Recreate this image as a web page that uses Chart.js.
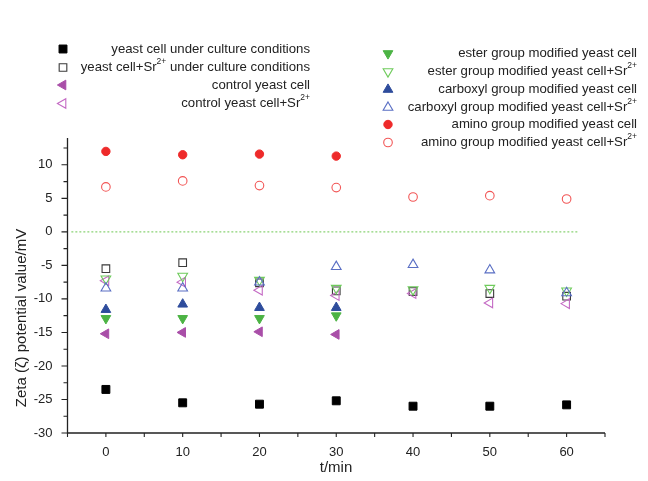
<!DOCTYPE html>
<html>
<head>
<meta charset="utf-8">
<script src="https://cdn.jsdelivr.net/npm/chart.js@4.4.0/dist/chart.umd.min.js"></script>
<style>
html,body{margin:0;padding:0;background:#fff;}
#wrap{width:648px;height:481px;position:relative;}
</style>
</head>
<body>
<div id="wrap"><canvas id="c" width="648" height="481"></canvas></div>
<script>
// ---- data ----
const times = [0, 10, 20, 30, 40, 50, 60];
const timesShort = [0, 10, 20, 30];
const yeastCulture   = [-23.5, -25.5, -25.7, -25.2, -26.0, -26.0, -25.8];
const yeastCultureSr = [-5.5, -4.6, -7.6, -8.8, -8.9, -9.2, -9.6];
const control        = [-15.2, -15.0, -14.9, -15.3];
const controlSr      = [-7.3, -7.5, -8.7, -9.5, -9.2, -10.6, -10.7];
const ester          = [-12.9, -12.9, -12.9, -12.5];
const esterSr        = [-7.0, -6.6, -7.2, -8.4, -8.6, -8.4, -8.8];
const carboxyl       = [-11.6, -10.8, -11.3, -11.3];
const carboxylSr     = [-8.4, -8.4, -7.5, -5.2, -4.9, -5.7, -9.1];
const amino          = [12.0, 11.5, 11.6, 11.3];
const aminoSr        = [6.7, 7.6, 6.9, 6.6, 5.2, 5.4, 4.9];
const zeroLineX = [-4.5, 61.5];
const zeroLineY = [0, 0];

const seriesLabels = [
  'yeast cell under culture conditions',
  'yeast cell+Sr^2+ under culture conditions',
  'control yeast cell',
  'control yeast cell+Sr^2+',
  'ester group modified yeast cell',
  'ester group modified yeast cell+Sr^2+',
  'carboxyl group modified yeast cell',
  'carboxyl group modified yeast cell+Sr^2+',
  'amino group modified yeast cell',
  'amino group modified yeast cell+Sr^2+'
];
const xTickValues = [0, 10, 20, 30, 40, 50, 60];
const xMinorTicks = [-5, 0, 5, 10, 15, 20, 25, 30, 35, 40, 45, 50, 55, 60, 65];
const yTickValues = [-30, -25, -20, -15, -10, -5, 0, 5, 10];
const yMinorTicks = [-27.5, -22.5, -17.5, -12.5, -7.5, -2.5, 2.5, 7.5, 12.5];
const xTitle = 't/min';
const yTitle = 'Zeta (\u03B6) potential value/mV';

// ---- styles ----
const styles = [
  {shape:'rect', rot:0, fill:'#000000', stroke:'#000000', r:5.6, open:false},
  {shape:'rect', rot:0, fill:'transparent', stroke:'#3a3a3a', r:5.4, open:true},
  {shape:'triangle', rot:270, fill:'#a94ea8', stroke:'#a94ea8', r:5.6, open:false},
  {shape:'triangle', rot:270, fill:'transparent', stroke:'#c46ac4', r:5.6, open:true},
  {shape:'triangle', rot:180, fill:'#4cb344', stroke:'#4cb344', r:5.6, open:false},
  {shape:'triangle', rot:180, fill:'transparent', stroke:'#6fcb5c', r:5.6, open:true},
  {shape:'triangle', rot:0, fill:'#2e4c9c', stroke:'#2e4c9c', r:5.6, open:false},
  {shape:'triangle', rot:0, fill:'transparent', stroke:'#5a6fc4', r:5.6, open:true},
  {shape:'circle', rot:0, fill:'#ee2a2a', stroke:'#ee2a2a', r:4.2, open:false},
  {shape:'circle', rot:0, fill:'transparent', stroke:'#f25555', r:4.3, open:true}
];
const seriesData = [yeastCulture, yeastCultureSr, control, controlSr, ester, esterSr, carboxyl, carboxylSr, amino, aminoSr];

function pts(arr) {
  const xs = arr.length === times.length ? times : timesShort;
  return arr.map((v, i) => ({x: xs[i], y: v}));
}

const datasets = seriesData.map((arr, i) => ({
  type: 'scatter',
  label: seriesLabels[i],
  data: pts(arr),
  pointStyle: styles[i].shape,
  rotation: styles[i].rot,
  pointRadius: styles[i].r,
  pointHoverRadius: styles[i].r,
  backgroundColor: styles[i].fill,
  borderColor: styles[i].stroke,
  borderWidth: styles[i].open ? 1.1 : 1,
  showLine: false,
  order: 10 - i
}));
datasets.unshift({
  type: 'line',
  label: 'zero',
  data: zeroLineX.map((x, i) => ({x: x, y: zeroLineY[i]})),
  borderColor: '#8fd47a',
  borderWidth: 1.3,
  borderDash: [2, 2],
  pointRadius: 0,
  fill: false,
  order: 20
});

// legend layout
const legendLeft = {markerX: 63, rightX: 310, ys: [49, 67.5, 85, 103.5], items: [0, 1, 2, 3]};
const legendRight = {markerX: 388, rightX: 637, ys: [53.5, 71.5, 89.5, 107.5, 124.5, 142.5], items: [4, 5, 6, 7, 8, 9]};
const FONT = '"Liberation Sans", Arial, sans-serif';
const TXT = '#222222';

function drawMarker(ctx, st, x, y) {
  ctx.save();
  ctx.beginPath();
  const r = st.r;
  if (st.shape === 'circle') {
    ctx.arc(x, y, r, 0, Math.PI * 2);
  } else if (st.shape === 'rect') {
    const s = r * Math.SQRT1_2;
    ctx.rect(x - s, y - s, 2 * s, 2 * s);
  } else {
    const rad = st.rot * Math.PI / 180;
    for (let k = 0; k < 3; k++) {
      const a = rad + k * 2 * Math.PI / 3;
      const px = x + Math.sin(a) * r;
      const py = y - Math.cos(a) * r;
      if (k === 0) ctx.moveTo(px, py); else ctx.lineTo(px, py);
    }
    ctx.closePath();
  }
  if (!st.open) { ctx.fillStyle = st.fill; ctx.fill(); }
  ctx.lineWidth = st.open ? 1.1 : 1;
  ctx.strokeStyle = st.stroke;
  ctx.stroke();
  ctx.restore();
}

function drawRichRight(ctx, text, rightX, y) {
  const parts = text.split('^2+');
  const segs = [];
  parts.forEach((p, i) => {
    if (p) segs.push({t: p, sup: false});
    if (i < parts.length - 1) segs.push({t: '2+', sup: true});
  });
  const fN = '13.2px ' + FONT, fS = '8.5px ' + FONT;
  let w = 0;
  segs.forEach(s => { ctx.font = s.sup ? fS : fN; s.w = ctx.measureText(s.t).width; w += s.w; });
  let x = rightX - w;
  ctx.textBaseline = 'middle';
  ctx.textAlign = 'left';
  ctx.fillStyle = TXT;
  segs.forEach(s => {
    ctx.font = s.sup ? fS : fN;
    ctx.fillText(s.t, x, s.sup ? y - 5.5 : y);
    x += s.w;
  });
}

const decor = {
  id: 'decor',
  afterDraw(chart) {
    const ctx = chart.ctx;
    const xs = chart.scales.x, ys = chart.scales.y;
    const a = chart.chartArea;
    ctx.save();
    ctx.strokeStyle = '#222';
    ctx.lineWidth = 1.3;
    // axes
    ctx.beginPath();
    ctx.moveTo(a.left, a.top);
    ctx.lineTo(a.left, a.bottom);
    ctx.lineTo(a.right, a.bottom);
    ctx.stroke();
    ctx.lineWidth = 1.1;
    // y ticks
    ctx.beginPath();
    yTickValues.forEach(v => { const p = ys.getPixelForValue(v); ctx.moveTo(a.left, p); ctx.lineTo(a.left - 6, p); });
    yMinorTicks.forEach(v => { const p = ys.getPixelForValue(v); ctx.moveTo(a.left, p); ctx.lineTo(a.left - 4, p); });
    // x ticks
    xMinorTicks.forEach(v => { const p = xs.getPixelForValue(v); ctx.moveTo(p, a.bottom); ctx.lineTo(p, a.bottom + 4); });
    ctx.stroke();
    // titles
    ctx.fillStyle = TXT;
    ctx.font = '15px ' + FONT;
    ctx.textAlign = 'center';
    ctx.textBaseline = 'middle';
    ctx.fillText(xTitle, 336, 468);
    ctx.save();
    ctx.translate(22, 318);
    ctx.rotate(-Math.PI / 2);
    ctx.fillText(yTitle, 0, 0);
    ctx.restore();
    // legend
    [legendLeft, legendRight].forEach(blk => {
      blk.items.forEach((idx, j) => {
        drawMarker(ctx, styles[idx], blk.markerX, blk.ys[j]);
        drawRichRight(ctx, seriesLabels[idx], blk.rightX, blk.ys[j]);
      });
    });
    ctx.restore();
  }
};

new Chart(document.getElementById('c'), {
  data: {datasets: datasets},
  options: {
    responsive: false,
    animation: false,
    events: [],
    layout: {padding: {top: 138, right: 43, left: 0, bottom: 0}},
    plugins: {legend: {display: false}, tooltip: {enabled: false}},
    scales: {
      x: {
        type: 'linear', min: -5, max: 65,
        afterFit: s => { s.height = 48; },
        afterBuildTicks: s => { s.ticks = xTickValues.map(v => ({value: v})); },
        grid: {display: false, drawTicks: false},
        border: {display: false},
        ticks: {color: TXT, font: {family: FONT, size: 13}, padding: 12, maxRotation: 0, autoSkip: false}
      },
      y: {
        type: 'linear', min: -30, max: 14,
        afterFit: s => { s.width = 67.5; },
        afterBuildTicks: s => { s.ticks = yTickValues.map(v => ({value: v})); },
        grid: {display: false, drawTicks: false},
        border: {display: false},
        ticks: {color: TXT, font: {family: FONT, size: 13}, padding: 15, autoSkip: false}
      }
    }
  },
  plugins: [decor]
});
</script>
</body>
</html>
